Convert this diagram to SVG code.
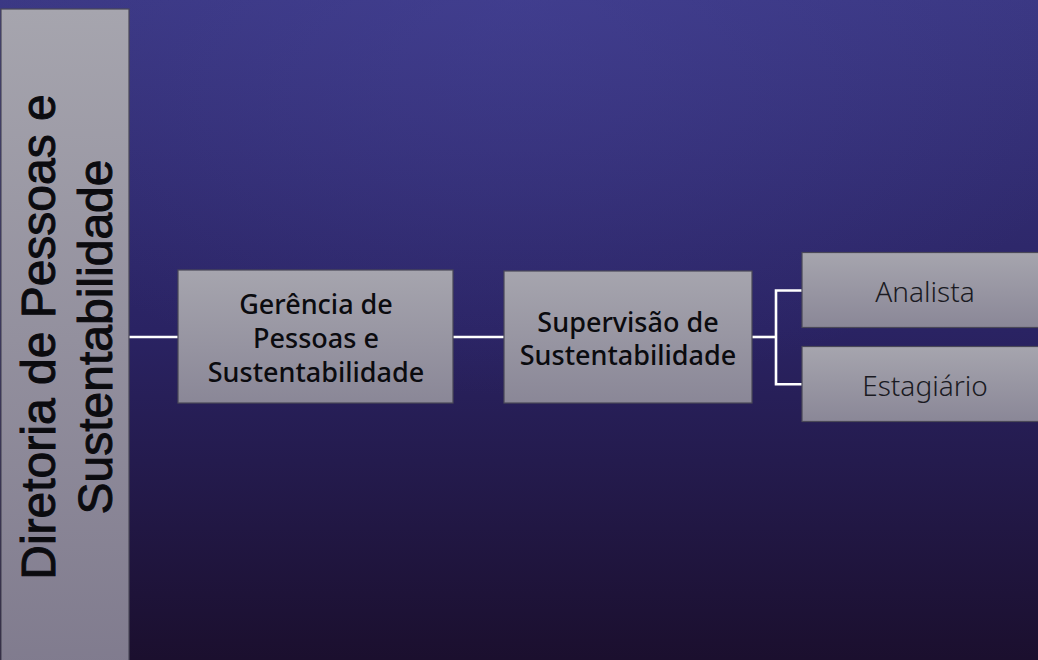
<svg xmlns="http://www.w3.org/2000/svg" width="1038" height="660" viewBox="0 0 1038 660">
<defs>
<linearGradient id="bg" x1="0" y1="0" x2="0" y2="1">
<stop offset="0" stop-color="#3a3782"/>
<stop offset="0.5" stop-color="#2a2363"/>
<stop offset="1" stop-color="#1b0f2e"/>
</linearGradient>
<radialGradient id="glow" cx="0.5" cy="0" r="0.6">
<stop offset="0" stop-color="#4a47a0" stop-opacity="0.4"/>
<stop offset="1" stop-color="#4a47a0" stop-opacity="0"/>
</radialGradient>
<linearGradient id="box" x1="0" y1="0" x2="0" y2="1">
<stop offset="0" stop-color="#a6a5ae"/>
<stop offset="1" stop-color="#8a8797"/>
</linearGradient>
<linearGradient id="tall" x1="0" y1="0" x2="0" y2="1">
<stop offset="0" stop-color="#a6a5ae"/>
<stop offset="1" stop-color="#807b8e"/>
</linearGradient>
<style>
.node{stroke:#4a4858;stroke-width:1.2}
.t{font-family:"Noto Sans","Liberation Sans",sans-serif;font-size:27px;font-weight:500;fill:#0b0b0f;text-anchor:middle}
.tl{font-family:"Noto Sans","Liberation Sans",sans-serif;font-size:28px;font-weight:300;fill:#1a1a22;text-anchor:middle}
.tv{font-family:"Liberation Sans",Arial,sans-serif;font-size:48px;fill:#0b0b0f;stroke:#0b0b0f;stroke-width:1;text-anchor:middle}
.c{stroke:#ffffff;stroke-width:2.6;fill:none}
</style>
</defs>
<rect width="1038" height="660" fill="url(#bg)"/>
<rect width="1038" height="660" fill="url(#glow)"/>
<g id="connectors">
<line class="c" x1="129" y1="337" x2="178" y2="337"/>
<line class="c" x1="453" y1="337" x2="504" y2="337"/>
<line class="c" x1="752" y1="337" x2="776" y2="337"/>
<polyline class="c" points="802,290.5 776,290.5 776,384.3 802,384.3"/>
</g>
<g id="diretoria">
<rect class="node" x="1" y="9" width="128" height="660" fill="url(#tall)"/>
<text class="tv" transform="translate(64 337) rotate(-90)"><tspan x="0" y="-9">Diretoria de Pessoas e</tspan><tspan x="0" y="48">Sustentabilidade</tspan></text>
</g>
<g id="gerencia">
<rect class="node" x="178" y="270" width="275" height="133" fill="url(#box)"/>
<text class="t"><tspan x="316" y="314">Gerência de</tspan><tspan x="316" y="348">Pessoas e</tspan><tspan x="316" y="382">Sustentabilidade</tspan></text>
</g>
<g id="supervisao">
<rect class="node" x="504" y="271" width="248" height="132" fill="url(#box)"/>
<text class="t"><tspan x="628" y="332">Supervisão de</tspan><tspan x="628" y="365">Sustentabilidade</tspan></text>
</g>
<g id="analista">
<rect class="node" x="802" y="252.5" width="250" height="75" fill="url(#box)"/>
<text class="tl" x="925" y="302">Analista</text>
</g>
<g id="estagiario">
<rect class="node" x="802" y="346.5" width="250" height="75" fill="url(#box)"/>
<text class="tl" x="925" y="396">Estagiário</text>
</g>
</svg>
